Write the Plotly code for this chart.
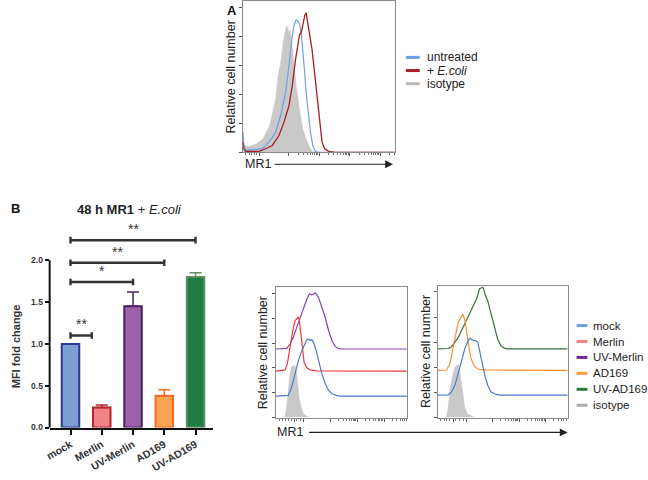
import math
import plotly.graph_objects as go

W, H = 648, 480
FONT = "Arial, Liberation Sans, sans-serif"

# ---------------- DATA ----------------
# Panel A histograms (MR1 channel, relative count)
A_iso_x = [12, 17, 30, 52, 72, 92, 105, 110, 117, 127, 132, 137, 142, 146, 150, 154, 158, 162, 167, 172, 182, 192, 202, 212, 222, 230]
A_iso_y = [5, 21, 18, 26, 41, 81, 140, 161, 231, 281, 330, 361, 383, 380, 361, 371, 340, 301, 250, 201, 131, 71, 41, 16, 3, 0]
A_unt_x = [12, 14, 20, 40, 70, 90, 110, 125, 140, 150, 155, 160, 165, 170, 174, 178, 182, 187, 192, 197, 202, 210, 215, 222, 230, 240, 470]
A_unt_y = [61, 20, 6, 8, 11, 31, 61, 111, 181, 261, 311, 351, 381, 399, 401, 396, 391, 361, 311, 251, 181, 111, 61, 21, 3, 0, 0]
A_eco_x = [12, 14, 20, 60, 80, 100, 120, 135, 150, 160, 170, 178, 182, 188, 192, 198, 202, 206, 212, 220, 228, 235, 240, 245, 250, 258, 270, 290, 470]
A_eco_y = [31, 10, 3, 3, 11, 21, 51, 91, 141, 201, 281, 341, 356, 366, 391, 416, 423, 401, 361, 311, 231, 161, 111, 61, 31, 11, 3, 0, 0]

# Panel B bars
groups = ["mock", "Merlin", "UV-Merlin", "AD169", "UV-AD169"]
mfi = [1.0, 0.24, 1.45, 0.38, 1.80]
mfi_err = [0.0, 0.03, 0.17, 0.07, 0.05]
# significance comparisons: (from, to, bracket height, label)
sig = [(0, 0.68, 1.10, "**"), (0, 2, 1.74, "*"), (0, 3, 1.97, "**"), (0, 4, 2.24, "**")]
y_ticks = [0.0, 0.5, 1.0, 1.5, 2.0]
y_ticktext = ["0.0", "0.5", "1.0", "1.5", "2.0"]

# Panel C histograms
C_iso_x = [50, 55, 60, 65, 70, 75, 80, 85, 88, 92, 97, 103, 110, 120, 130]
C_iso_y = [0, 2, 32, 92, 132, 154, 157, 156, 147, 112, 62, 32, 12, 4, 0]
C_mock_x = [28, 60, 65, 75, 85, 95, 105, 112, 120, 125, 130, 135, 140, 148, 155, 165, 175, 185, 195, 210, 220, 418]
C_mock_y = [65, 65, 67, 92, 132, 172, 202, 217, 234, 237, 232, 235, 227, 202, 172, 132, 102, 82, 72, 66, 65, 65]
C_mer_x = [28, 55, 62, 70, 75, 80, 85, 90, 95, 98, 102, 107, 112, 120, 130, 145, 418]
C_mer_y = [140, 144, 162, 212, 252, 272, 292, 297, 304, 292, 252, 202, 167, 150, 144, 141, 140]
C_uvm_x = [28, 60, 70, 80, 90, 100, 110, 120, 128, 134, 140, 145, 150, 155, 165, 175, 185, 195, 205, 215, 225, 418]
C_uvm_y = [207, 209, 222, 242, 272, 302, 332, 357, 374, 370, 372, 376, 370, 362, 332, 302, 262, 232, 214, 208, 207, 207]

# Panel D histograms
D_iso_x = [40, 45, 50, 55, 62, 70, 75, 82, 85, 90, 95, 100, 108, 120, 130]
D_iso_y = [0, 2, 32, 82, 122, 152, 157, 160, 142, 102, 62, 32, 12, 4, 0]
D_mock_x = [18, 50, 60, 70, 80, 90, 100, 110, 117, 125, 135, 140, 145, 150, 160, 170, 180, 195, 210, 412]
D_mock_y = [68, 69, 77, 97, 132, 172, 207, 232, 240, 234, 232, 227, 202, 172, 132, 97, 77, 70, 68, 68]
D_ad_x = [18, 45, 55, 65, 72, 80, 88, 95, 100, 105, 110, 118, 128, 140, 155, 412]
D_ad_y = [143, 144, 162, 212, 252, 287, 302, 312, 297, 262, 222, 182, 157, 147, 144, 143]
D_uva_x = [18, 50, 60, 70, 80, 90, 100, 110, 120, 128, 135, 140, 145, 150, 155, 157, 162, 170, 178, 185, 192, 200, 210, 220, 230, 412]
D_uva_y = [208, 209, 214, 227, 242, 262, 282, 307, 327, 342, 357, 372, 390, 392, 394, 390, 372, 352, 322, 287, 262, 237, 217, 210, 208, 208]

# ---------------- STYLES ----------------
C_GREY = "#c9c9c9"
bar_fill = ["#7c9fd5", "#f28389", "#9c62a9", "#f9a452", "#1f7d44"]
bar_line = ["#2c3a8f", "#b3262e", "#4b1f61", "#f26a24", "#5d8f63"]


def PX(x):
    return x / W


def PY(y):
    return 1 - y / H


fig = go.Figure()

# ---- Panel A ----
fig.add_trace(go.Scatter(x=A_iso_x, y=A_iso_y, mode="lines", fill="tozeroy", fillcolor=C_GREY,
                         line=dict(color=C_GREY, width=0.5), xaxis="x", yaxis="y", showlegend=False))
fig.add_trace(go.Scatter(x=A_unt_x, y=A_unt_y, mode="lines", line=dict(color="#6f9fe2", width=1.2),
                         xaxis="x", yaxis="y", showlegend=False))
fig.add_trace(go.Scatter(x=A_eco_x, y=A_eco_y, mode="lines", line=dict(color="#a51f24", width=1.3),
                         xaxis="x", yaxis="y", showlegend=False))

# ---- Panel B ----
for i, g in enumerate(groups):
    fig.add_trace(go.Bar(x=[i], y=[mfi[i]], width=0.56, name=g,
                         marker=dict(color=bar_fill[i], line=dict(color=bar_line[i], width=2)),
                         error_y=dict(type="data", array=[mfi_err[i]], arrayminus=[0], symmetric=False,
                                      color=bar_line[i], thickness=1.5, width=6, visible=mfi_err[i] > 0),
                         xaxis="x2", yaxis="y2", showlegend=False))
cap = 0.04
for (a, b, h, lab) in sig:
    fig.add_trace(go.Scatter(x=[a, a, None, a, b, None, b, b],
                             y=[h - cap, h + cap, None, h, h, None, h - cap, h + cap],
                             mode="lines", line=dict(color="#333333", width=2.4),
                             xaxis="x2", yaxis="y2", showlegend=False, hoverinfo="skip"))
    fig.add_annotation(x=(a + b) / 2, y=h + 0.015, xref="x2", yref="y2", text=lab, showarrow=False,
                       yanchor="bottom", font=dict(family=FONT, size=14, color="#333333"))

# ---- Panel C ----
fig.add_trace(go.Scatter(x=C_iso_x, y=C_iso_y, mode="lines", fill="tozeroy", fillcolor=C_GREY,
                         line=dict(color=C_GREY, width=0.5), xaxis="x3", yaxis="y3", showlegend=False))
fig.add_trace(go.Scatter(x=C_uvm_x, y=C_uvm_y, mode="lines", line=dict(color="#8a45ad", width=1.2),
                         xaxis="x3", yaxis="y3", showlegend=False))
fig.add_trace(go.Scatter(x=C_mer_x, y=C_mer_y, mode="lines", line=dict(color="#f2343a", width=1.2),
                         xaxis="x3", yaxis="y3", showlegend=False))
fig.add_trace(go.Scatter(x=C_mock_x, y=C_mock_y, mode="lines", line=dict(color="#4a7bcc", width=1.2),
                         xaxis="x3", yaxis="y3", showlegend=False))

# ---- Panel D ----
fig.add_trace(go.Scatter(x=D_iso_x, y=D_iso_y, mode="lines", fill="tozeroy", fillcolor=C_GREY,
                         line=dict(color=C_GREY, width=0.5), xaxis="x4", yaxis="y4", showlegend=False))
fig.add_trace(go.Scatter(x=D_uva_x, y=D_uva_y, mode="lines", line=dict(color="#3a6f3c", width=1.2),
                         xaxis="x4", yaxis="y4", showlegend=False))
fig.add_trace(go.Scatter(x=D_ad_x, y=D_ad_y, mode="lines", line=dict(color="#ff8c2e", width=1.2),
                         xaxis="x4", yaxis="y4", showlegend=False))
fig.add_trace(go.Scatter(x=D_mock_x, y=D_mock_y, mode="lines", line=dict(color="#4a7bcc", width=1.2),
                         xaxis="x4", yaxis="y4", showlegend=False))


def log_minors(majors, width, end):
    out = []
    for m in majors:
        for k in range(2, 10):
            v = m + math.log10(k) * width
            if v < end:
                out.append(v)
    return out


def hist_x(domain, rng, majors, minors):
    return dict(domain=domain, range=rng, showline=True, linecolor="#8a8a8a", linewidth=1, mirror=True,
                showgrid=False, zeroline=False, showticklabels=False, ticks="outside", ticklen=3,
                tickcolor="#555555", tickvals=majors,
                minor=dict(tickvals=minors, ticks="outside", ticklen=2, tickcolor="#777777"))


def hist_y(domain, rng, dtick):
    return dict(domain=domain, range=rng, showline=True, linecolor="#8a8a8a", linewidth=1, mirror=True,
                showgrid=False, zeroline=False, showticklabels=False, ticks="outside", ticklen=3,
                tickcolor="#555555", tick0=0, dtick=dtick,
                minor=dict(ticks="outside", ticklen=1.5, nticks=5, tickcolor="#888888"))


A_maj = [60, 150, 242, 334, 426]
C_maj = [82, 110, 190, 270, 350]
D_maj = [65, 105, 185, 265, 345]

B_top_px = 432 - 2.35 * 84.5

fig.update_layout(
    width=W, height=H, margin=dict(l=0, r=0, t=0, b=0), autosize=False,
    paper_bgcolor="white", plot_bgcolor="white", barmode="overlay",
    font=dict(family=FONT, color="#222222"),
    xaxis=hist_x([PX(240), PX(393)], [12, 470], A_maj,
                 [20, 30, 38, 45, 52] + log_minors(A_maj[1:], 92, 470)),
    yaxis=hist_y([PY(154), PY(1)], [0, 459], 88),
    xaxis2=dict(domain=[PX(45), PX(210)], range=[-0.667, 4.57], showline=True, linecolor="#111111",
                linewidth=2, showgrid=False, zeroline=False, ticks="outside", ticklen=5, tickwidth=1.5,
                tickcolor="#111111", tickvals=list(range(len(groups))), ticktext=groups, tickangle=-30,
                tickfont=dict(family=FONT, size=10.5, color="#333333", weight="bold"), anchor="y2"),
    yaxis2=dict(domain=[0.1, PY(B_top_px)], range=[0, 2.35], showline=False, showgrid=False,
                zeroline=False, ticks="outside", ticklen=4, tickwidth=1.5, tickcolor="#111111",
                tickvals=y_ticks, ticktext=y_ticktext,
                tickfont=dict(family=FONT, size=8.5, color="#333333", weight="bold"), anchor="x2"),
    xaxis3=hist_x([PX(273), PX(405)], [28, 418], C_maj,
                  [38, 48, 58, 66, 74, 90, 100] + log_minors(C_maj[2:], 80, 418)),
    yaxis3=hist_y([PY(422), PY(290)], [0, 394], 75),
    xaxis4=hist_x([PX(436), PX(567)], [18, 412], D_maj,
                  [28, 38, 46, 54, 72, 85, 95] + log_minors(D_maj[2:], 80, 412)),
    yaxis4=hist_y([PY(422), PY(289)], [0, 398], 76),
)
fig.layout.xaxis.anchor = "y"
fig.layout.yaxis.anchor = "x"
fig.layout.xaxis3.anchor = "y3"
fig.layout.yaxis3.anchor = "x3"
fig.layout.xaxis4.anchor = "y4"
fig.layout.yaxis4.anchor = "x4"

shapes = []
# bar chart y axis line (0 to 2.0)
y2_dom = [0.1, PY(B_top_px)]
shapes.append(dict(type="line", xref="paper", yref="paper", x0=PX(45), x1=PX(45),
                   y0=y2_dom[0], y1=y2_dom[0] + (y2_dom[1] - y2_dom[0]) * 2.0 / 2.35,
                   line=dict(color="#111111", width=2)))


def ann(x, y, text, size=12.5, angle=0, xanchor="center", yanchor="middle", bold=False, color="#222222"):
    fig.add_annotation(x=PX(x), y=PY(y), xref="paper", yref="paper", text=text, showarrow=False,
                       textangle=angle, xanchor=xanchor, yanchor=yanchor,
                       font=dict(family=FONT, size=size, color=color, weight="bold" if bold else "normal"))


# Panel labels & titles
ann(222, 11, "A", size=13, bold=True, xanchor="left", color="#111111")
ann(4, 211, "B", size=13, bold=True, xanchor="left", color="#111111")
ann(125, 212, "<b>48 h MR1</b> + <i>E.coli</i>", size=13)
ann(11, 350, "MFI fold change", size=11, angle=-90, bold=True, color="#333333")

# Histogram axis labels
ann(228, 78, "Relative cell number", size=12.5, angle=-90)
ann(260, 356, "Relative cell number", size=12.5, angle=-90)
ann(425, 355, "Relative cell number", size=12.5, angle=-90)
ann(240, 166, "MR1", size=12.5, xanchor="left")
ann(272, 437, "MR1", size=12.5, xanchor="left")

# Arrows
fig.add_annotation(x=PX(391), y=PY(166), xref="paper", yref="paper", ax=-120, ay=0, axref="pixel",
                   ayref="pixel", text="", showarrow=True, arrowhead=2, arrowsize=1.3, arrowwidth=1.2,
                   arrowcolor="#222222")
fig.add_annotation(x=PX(567), y=PY(437), xref="paper", yref="paper", ax=-260, ay=0, axref="pixel",
                   ayref="pixel", text="", showarrow=True, arrowhead=2, arrowsize=1.3, arrowwidth=1.2,
                   arrowcolor="#222222")

# Legend A
legA = [("untreated", "#6f9fe2"), ("+ <i>E.coli</i>", "#a51f24"), ("isotype", "#b8b8b8")]
for i, (lab, col) in enumerate(legA):
    yy = 58 + i * 13.3
    shapes.append(dict(type="line", xref="paper", yref="paper", x0=PX(404), x1=PX(418), y0=PY(yy), y1=PY(yy),
                       line=dict(color=col, width=3)))
    ann(423, yy, lab, size=12, xanchor="left")

# Legend D
legD = [("mock", "#6f9fe2"), ("Merlin", "#f28389"), ("UV-Merlin", "#6a2a98"), ("AD169", "#ffa043"),
        ("UV-AD169", "#2e7a3c"), ("isotype", "#aaaaaa")]
for i, (lab, col) in enumerate(legD):
    yy = 329 + i * 16.1
    shapes.append(dict(type="line", xref="paper", yref="paper", x0=PX(576), x1=PX(587), y0=PY(yy), y1=PY(yy),
                       line=dict(color=col, width=3)))
    ann(591, yy, lab, size=11.5, xanchor="left")

fig.update_layout(shapes=shapes)
fig.write_html("out.html", config={"displayModeBar": False},
               post_script="document.body.style.margin='0';document.body.style.padding='0';"
                           "document.body.style.overflow='hidden';")
